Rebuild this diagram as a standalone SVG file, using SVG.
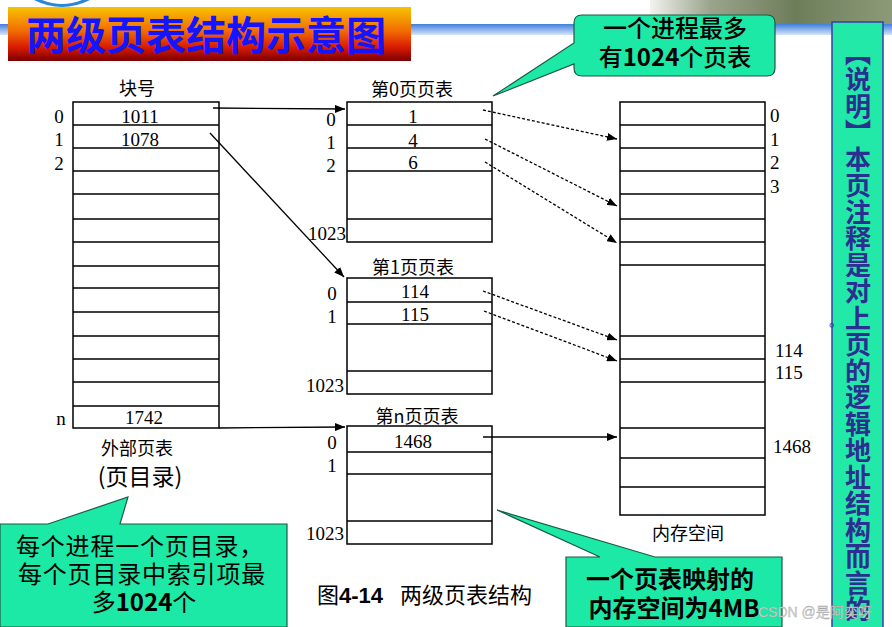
<svg xmlns="http://www.w3.org/2000/svg" width="892" height="627" viewBox="0 0 892 627">
<defs>
<linearGradient id="gTitle" x1="0" y1="0" x2="0" y2="1">
<stop offset="0" stop-color="#f7c400"/>
<stop offset="0.45" stop-color="#f26a00"/>
<stop offset="0.75" stop-color="#d81a00"/>
<stop offset="1" stop-color="#7a0000"/>
</linearGradient>
<linearGradient id="gBand" x1="0" y1="0" x2="0" y2="1">
<stop offset="0" stop-color="#3f7fdc"/>
<stop offset="1" stop-color="#d6e4f8"/>
</linearGradient>
<linearGradient id="gTrees" x1="0" y1="0" x2="1" y2="0">
<stop offset="0" stop-color="#f2f2ee"/>
<stop offset="0.25" stop-color="#9aa48c"/>
<stop offset="0.6" stop-color="#6d7d5a"/>
<stop offset="1" stop-color="#8c9a78"/>
</linearGradient>
<marker id="ah" markerUnits="userSpaceOnUse" markerWidth="10" markerHeight="8" refX="10" refY="4" orient="auto">
<path d="M0,0 L10,4 L0,8 z" fill="#000"/>
</marker>
</defs>
<style>
.tbl{fill:#fff;stroke:#000;stroke-width:1.5}
.ln{stroke:#000;stroke-width:1.5}
.num{font-family:"Liberation Serif","Noto Sans CJK SC",serif;font-size:19px;fill:#000}
.lbl{font-family:"Noto Sans CJK SC",sans-serif;font-size:18px;fill:#000}
.mid{text-anchor:middle}
.end{text-anchor:end}
.con{fill:none;stroke:#000;stroke-width:1.3}
.dash{stroke-dasharray:3 2}
.call{fill:#1de9a6;stroke:#1d5a44;stroke-width:1.2}
.ct{font-family:"Noto Sans CJK SC",sans-serif;font-size:24px;fill:#000;text-anchor:middle}
.side{font-family:"Noto Sans CJK SC",sans-serif;font-weight:bold;font-size:26px;fill:#2b2f8f;writing-mode:vertical-rl;font-feature-settings:"vert" 1;letter-spacing:0.5px}
</style>
<rect x="0" y="0" width="892" height="627" fill="#fff"/>
<g id="background">
<rect x="650" y="0" width="242" height="25" fill="url(#gTrees)"/>
<rect x="0" y="24" width="892" height="11" fill="url(#gBand)"/>
<path d="M34,0 Q62,14 90,0 L82,0 Q62,8 42,0 z" fill="#2a86d8"/>
</g>
<g id="title">
<rect x="8" y="7" width="403" height="54" fill="url(#gTitle)"/>
<text x="206" y="50" text-anchor="middle" font-family="Noto Sans CJK SC, sans-serif" font-weight="bold" font-size="40" fill="#1414ff">两级页表结构示意图</text>
</g>
<g id="outer-table">
<text class="lbl mid" x="137" y="95">块号</text>
<rect class="tbl" x="73" y="102" width="146" height="326"/>
<path class="ln" d="M73,125H219M73,148H219M73,171H219M73,194H219M73,219H219M73,242H219M73,266H219M73,288H219M73,312H219M73,336H219M73,359H219M73,382H219M73,406H219"/>
<text class="num mid" x="59" y="123">0</text>
<text class="num mid" x="59" y="146">1</text>
<text class="num mid" x="59" y="170">2</text>
<text class="num mid" x="61" y="425">n</text>
<text class="num mid" x="140" y="123">1011</text>
<text class="num mid" x="140" y="146">1078</text>
<text class="num mid" x="144" y="424">1742</text>
<text class="lbl mid" x="137" y="455" font-size="19">外部页表</text>
<text x="140" y="485" text-anchor="middle" font-family="Noto Sans CJK SC, sans-serif" font-size="23" fill="#000">(页目录)</text>
</g>
<g id="page-table-0">
<text class="lbl mid" x="412" y="96">第0页页表</text>
<rect class="tbl" x="347" y="102" width="145" height="140"/>
<path class="ln" d="M347,125H492M347,148H492M347,171H492M347,219H492"/>
<text class="num mid" x="331" y="126">0</text>
<text class="num mid" x="331" y="149">1</text>
<text class="num mid" x="331" y="172">2</text>
<text class="num end" x="346" y="240">1023</text>
<text class="num mid" x="413" y="123">1</text>
<text class="num mid" x="413" y="147">4</text>
<text class="num mid" x="413" y="169">6</text>
</g>
<g id="page-table-1">
<text class="lbl mid" x="413" y="274">第1页页表</text>
<rect class="tbl" x="347" y="278" width="145" height="116"/>
<path class="ln" d="M347,302H492M347,324H492M347,371H492"/>
<text class="num mid" x="332" y="300">0</text>
<text class="num mid" x="332" y="323">1</text>
<text class="num end" x="344" y="392">1023</text>
<text class="num mid" x="415" y="298">114</text>
<text class="num mid" x="415" y="321">115</text>
</g>
<g id="page-table-n">
<text class="lbl mid" x="417" y="423">第n页页表</text>
<rect class="tbl" x="347" y="426" width="145" height="118"/>
<path class="ln" d="M347,452H492M347,474H492M347,521H492"/>
<text class="num mid" x="332" y="449">0</text>
<text class="num mid" x="332" y="472">1</text>
<text class="num end" x="344" y="540">1023</text>
<text class="num mid" x="413" y="448">1468</text>
</g>
<g id="memory">
<rect class="tbl" x="620" y="102" width="145" height="413"/>
<path class="ln" d="M620,125H765M620,148H765M620,171H765M620,194H765M620,219H765M620,242H765M620,265H765M620,336H765M620,359H765M620,382H765M620,428H765M620,458H765M620,487H765"/>
<text class="num" x="770" y="122">0</text>
<text class="num" x="770" y="146">1</text>
<text class="num" x="770" y="169">2</text>
<text class="num" x="770" y="193">3</text>
<text class="num" x="775" y="357">114</text>
<text class="num" x="775" y="379">115</text>
<text class="num" x="773" y="453">1468</text>
<text class="lbl mid" x="688" y="540" font-size="19">内存空间</text>
</g>
<g id="connectors">
<path class="con" d="M213,108 L345,109" marker-end="url(#ah)"/>
<path class="con" d="M210,133 L344,277" marker-end="url(#ah)"/>
<path class="con" d="M219,428 L345,427" marker-end="url(#ah)"/>
<path class="con dash" d="M483,110 L617,139" marker-end="url(#ah)"/>
<path class="con dash" d="M485,139 L617,206" marker-end="url(#ah)"/>
<path class="con dash" d="M485,162 L617,243" marker-end="url(#ah)"/>
<path class="con dash" d="M483,291 L617,340" marker-end="url(#ah)"/>
<path class="con dash" d="M484,311 L617,361" marker-end="url(#ah)"/>
<path class="con" d="M483,437 L617,437" marker-end="url(#ah)"/>
</g>
<g id="callout-top">
<path class="call" d="M582,15 H767 Q775,15 775,23 V68 Q775,76 767,76 H582 Q574,76 574,68 V64 L493,96 L574,43 V23 Q574,15 582,15 z"/>
<text class="ct" x="675" y="37" font-weight="500">一个进程最多</text>
<text class="ct" x="675" y="66" font-weight="500">有<tspan font-weight="bold">1024</tspan>个页表</text>
</g>
<g id="callout-left">
<path class="call" d="M0,524 H48 L128,497 L120,524 H287 V627 H0 z"/>
<text class="ct" x="140" y="555" font-size="24" letter-spacing="0.8">每个进程一个页目录，</text>
<text class="ct" x="142" y="583" font-size="24" letter-spacing="0.8">每个页目录中索引项最</text>
<text class="ct" x="144" y="611" font-size="24">多<tspan font-weight="bold">1024</tspan>个</text>
</g>
<g id="callout-right">
<path class="call" d="M566,557 H600 L497,510 L655,557 H782 V627 H566 z"/>
<text class="ct" x="670" y="588" font-weight="bold">一个页表映射的</text>
<text class="ct" x="674" y="617" font-weight="bold">内存空间为4MB</text>
</g>
<g id="caption">
<text x="317" y="603" font-family="Noto Sans CJK SC, sans-serif" font-size="22" fill="#000">图<tspan font-weight="bold" font-family="Liberation Sans, sans-serif">4-14</tspan><tspan x="400">两级页表结构</tspan></text>
</g>
<g id="sidebar">
<rect x="832" y="22" width="51" height="610" fill="#22e9a8" stroke="#3b3ba8" stroke-width="1.5"/>
<text class="side" x="858" y="40">【说明】本页注释是对上页的逻辑地址结构而言的</text>
<text x="836" y="326" text-anchor="middle" font-family="Noto Sans CJK SC, sans-serif" font-size="14" fill="#2b2f8f">。</text>
</g>
<g id="watermark">
<text x="758" y="617" font-family="Liberation Sans, Noto Sans CJK SC, sans-serif" font-size="14" fill="#d8d8d8" stroke="#9a9a9a" stroke-width="0.3">CSDN @是阿奕呀</text>
</g>
</svg>
